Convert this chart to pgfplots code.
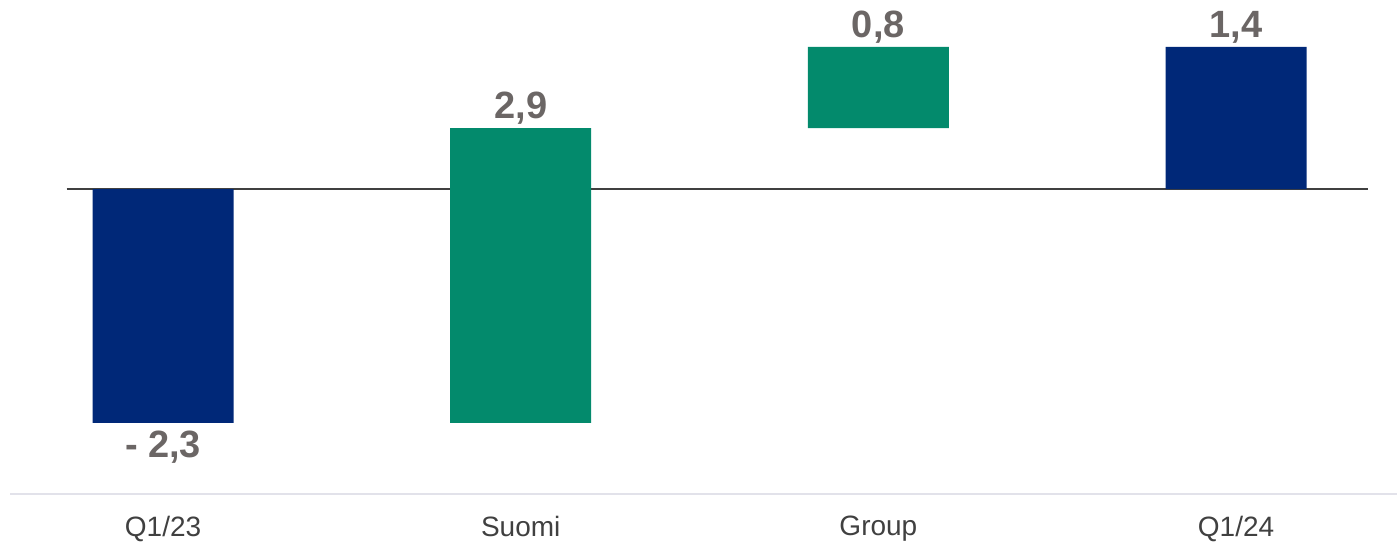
\documentclass[border=0pt]{standalone}
\usepackage{fontspec}
\setmainfont{Liberation Sans}
\usepackage{pgfplots}
\pgfplotsset{compat=1.18}
\usepackage{pgfplotstable}

\definecolor{bblue}{RGB}{0,40,120}
\definecolor{bgreen}{RGB}{3,138,108}
\definecolor{lblgray}{RGB}{107,102,101}
\definecolor{tickgray}{RGB}{64,64,64}
\definecolor{axgray}{RGB}{226,226,234}

% waterfall: invisible base + visible segments
\pgfplotstableread{
x base blue green
0 0 -2.3 0
1 -2.3 0 2.9
2 0.6 0 0.8
3 0 1.4 0
}\bars
% value labels at the bar ends
\pgfplotstableread[col sep=semicolon]{
x;y;lbl
1;0.6;2,9
2;1.4;0,8
3;1.4;1,4
}\lblup
\pgfplotstableread[col sep=semicolon]{
x;y;lbl
0;-2.3;- 2,3
}\lbldown

\pgfplotsset{base/.style={
  scale only axis,
  width=693.5pt, height=247pt,
  xmin=-0.428, xmax=3.45,
  ymin=-3.0, ymax=1.86,
  clip=false,
}}

\begin{document}
\begin{tikzpicture}
\begin{axis}[
  base,
  ybar stacked,
  stack negative=on previous,
  bar width=70.5pt,
  axis x line*=bottom,
  axis y line=none,
  x axis line style={draw=axgray, line width=0.8pt, -},
  xtick={0,1,2,3},
  xticklabels={Q1/23,Suomi,Group,Q1/24},
  major tick length=0pt,
  xticklabel style={font=\fontsize{14}{16}\selectfont, text=tickgray, yshift=-7.5pt},
]
\addplot [fill=none, draw=none] table [x=x, y=base] {\bars};
\addplot [fill=bblue, draw=none] table [x=x, y=blue] {\bars};
\addplot [fill=bgreen, draw=none] table [x=x, y=green] {\bars};
\draw [tickgray, line width=1pt] (axis cs:-0.27,0) -- (axis cs:3.37,0);
\end{axis}
\begin{axis}[base, hide axis]
\addplot [draw=none, mark=none,
  point meta=explicit symbolic, nodes near coords,
  every node near coord/.append style={font=\bfseries\fontsize{19}{21}\selectfont,
    text=lblgray, inner sep=1.5pt, anchor=south}]
  table [x=x, y=y, meta=lbl] {\lblup};
\addplot [draw=none, mark=none,
  point meta=explicit symbolic, nodes near coords,
  every node near coord/.append style={font=\bfseries\fontsize{19}{21}\selectfont,
    text=lblgray, inner sep=4pt, anchor=north}]
  table [x=x, y=y, meta=lbl] {\lbldown};
\end{axis}
\pgfresetboundingbox
\path ([xshift=-5pt,yshift=-26pt]current axis.south west) rectangle (current axis.north east);
\end{tikzpicture}
\end{document}
